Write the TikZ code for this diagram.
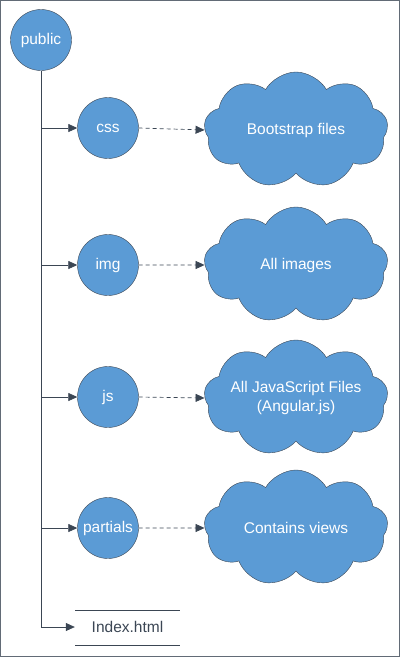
\documentclass[tikz,border=0pt]{standalone}
\usepackage{fontspec}
\setmainfont{Liberation Sans}
\usetikzlibrary{shapes.symbols,arrows.meta}
\definecolor{fillb}{HTML}{5B9BD5}
\definecolor{edge}{HTML}{3B4654}
\tikzset{
  folder/.style={circle,draw=edge,fill=fillb,minimum size=61pt,inner sep=0pt,text=white,font=\fontsize{15.5}{18}\selectfont},
  note/.style={cloud,draw=edge,fill=fillb,cloud puffs=9,cloud puff arc=120,cloud ignores aspect,minimum width=184pt,minimum height=116pt,inner sep=0pt,text=white,align=center,font=\fontsize{15.5}{19}\selectfont},
  tree/.style={draw=edge,line width=0.7pt,-{Triangle[length=9pt,width=8pt]}},
  link/.style={draw=edge,line width=0.7pt,dashed,dash pattern=on 4pt off 3pt,-{Triangle[length=9pt,width=8pt]}},
}
\begin{document}
\begin{tikzpicture}[x=1pt,y=-1pt]
\useasboundingbox (0,0) rectangle (400,657);
\draw[draw=edge!80,line width=1pt] (0.5,0.5) rectangle (399.5,656.5);
\node[folder] (public) at (41,40) {public};
\node[folder] (css) at (108,128) {css};
\node[folder] (img) at (108,265) {img};
\node[folder] (js) at (108,397) {js};
\node[folder] (partials) at (108,528) {partials};
\node[font=\fontsize{15.5}{18}\selectfont,text=edge,minimum width=105pt,inner sep=0pt] (index) at (127.5,627) {Index.html};
\coordinate (ul) at (75,610); \coordinate (ur) at (180,610);
\coordinate (ll) at (75,645); \coordinate (lr) at (180,645);
\draw[draw=edge,line width=0.7pt] (ul) -- (ur) (ll) -- (lr);
\node[note] (c1) at (296,130) {Bootstrap files};
\node[note] (c2) at (296,265) {All images};
\node[note] (c3) at (296,398) {All JavaScript Files\\(Angular.js)};
\node[note] (c4) at (296,528) {Contains views};
\coordinate (bot) at (41,627);
\draw[draw=edge,line width=0.7pt] (public.south) -- (bot);
\draw[tree] (41,128) -- (css.west);
\draw[tree] (41,265) -- (img.west);
\draw[tree] (41,397) -- (js.west);
\draw[tree] (41,528) -- (partials.west);
\draw[tree] (bot) -- (index.west);
\draw[link] (css.east) -- (c1.west);
\draw[link] (img.east) -- (c2.west);
\draw[link] (js.east) -- (c3.west);
\draw[link] (partials.east) -- (c4.west);
\end{tikzpicture}
\end{document}
